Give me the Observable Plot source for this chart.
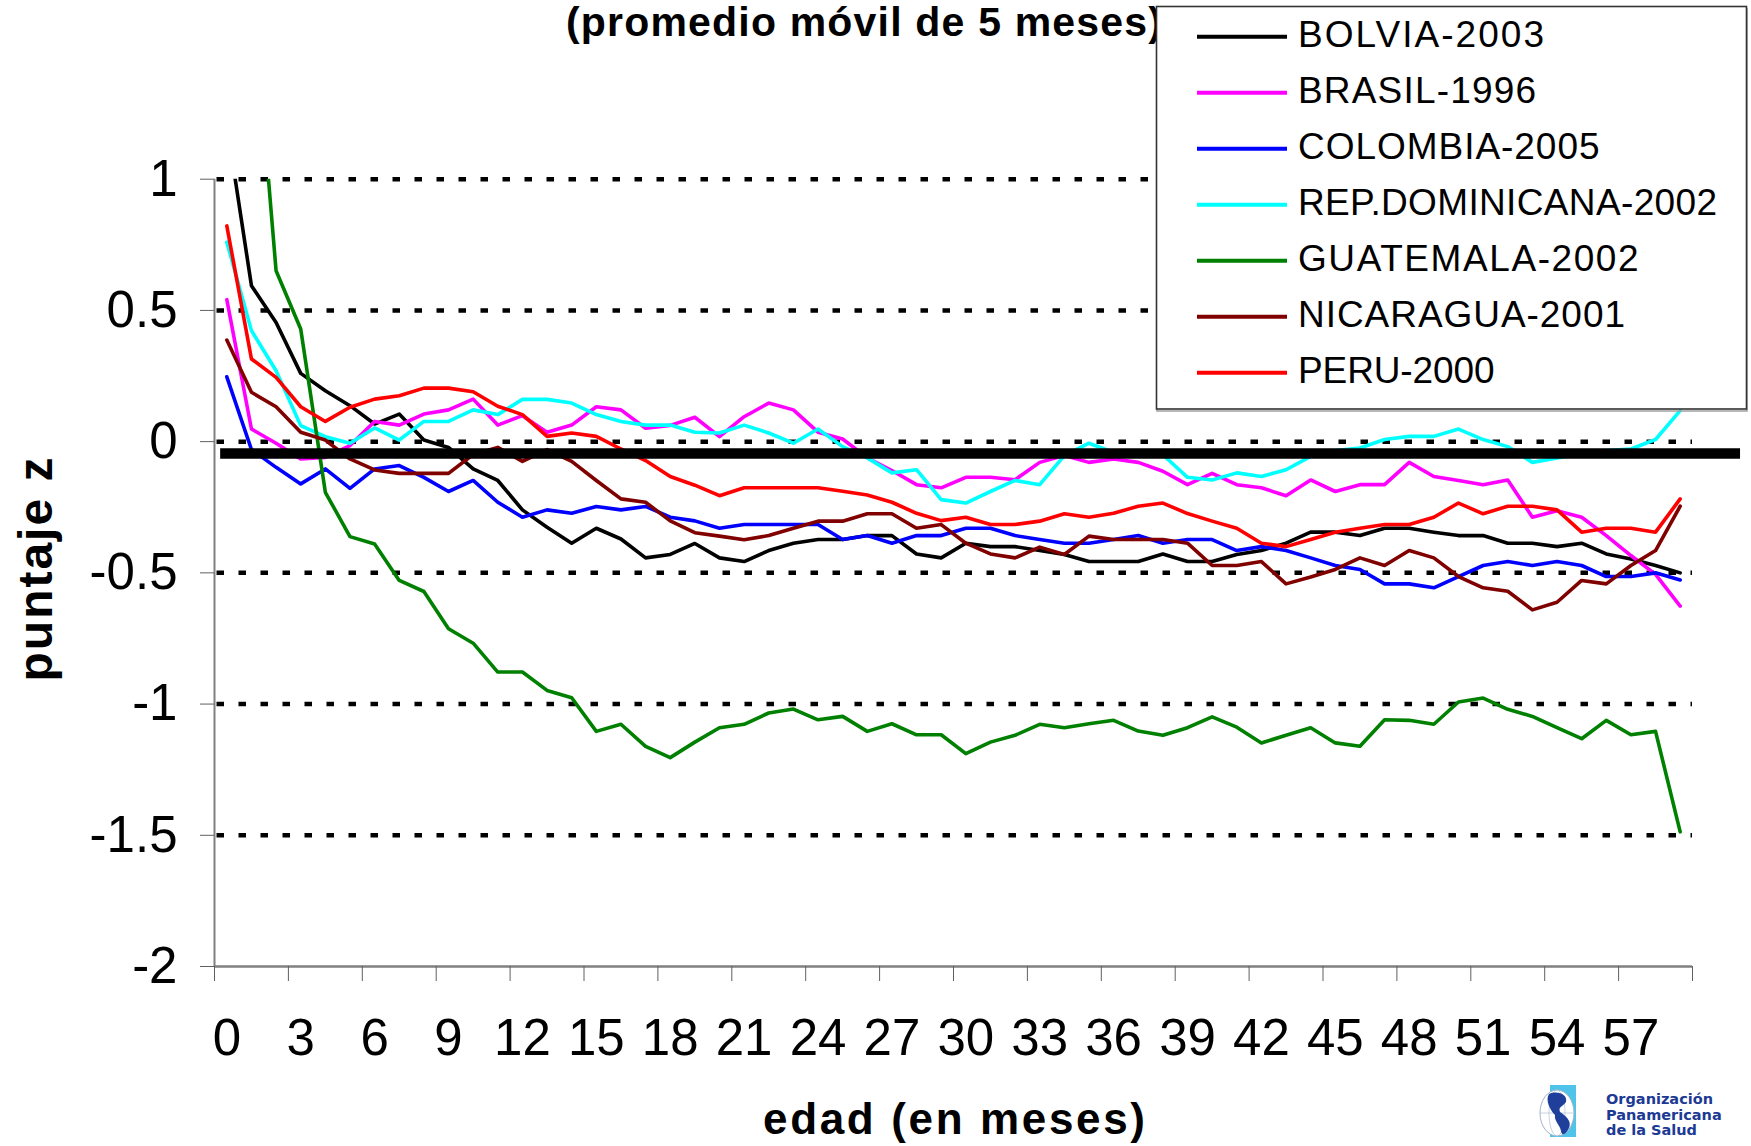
<!DOCTYPE html>
<html>
<head>
<meta charset="utf-8">
<script src="https://cdn.jsdelivr.net/npm/d3@7"></script>
<script src="https://cdn.jsdelivr.net/npm/@observablehq/plot@0.6"></script>
<style>
  html, body { margin: 0; padding: 0; background: #fff; }
  #wrap { position: relative; width: 1751px; height: 1146px; overflow: hidden; }
  #wrap > svg { position: absolute; left: 0; top: 0; }
</style>
</head>
<body>
<div id="wrap"></div>
<script>
// ---------- DATA ----------
const ages = d3.range(0, 60); // edad en meses (categorías 0..59)

const bolivia = [1.21, 0.594, 0.454, 0.260, 0.194, 0.137, 0.067, 0.105, 0.006, -0.022,
  -0.104, -0.148, -0.260, -0.326, -0.387, -0.330, -0.371, -0.443, -0.430, -0.388,
  -0.443, -0.457, -0.415, -0.387, -0.373, -0.373, -0.358, -0.358, -0.428, -0.443,
  -0.387, -0.400, -0.400, -0.415, -0.430, -0.457, -0.457, -0.457, -0.428, -0.457,
  -0.457, -0.430, -0.415, -0.387, -0.345, -0.345, -0.358, -0.330, -0.330, -0.345,
  -0.358, -0.358, -0.387, -0.387, -0.400, -0.387, -0.428, -0.447, -0.472, -0.500];

const brasil = [0.541, 0.048, -0.006, -0.066, -0.060, -0.015, 0.077, 0.063, 0.105, 0.121,
  0.162, 0.063, 0.099, 0.036, 0.063, 0.133, 0.121, 0.051, 0.062, 0.093,
  0.019, 0.095, 0.147, 0.121, 0.036, 0.010, -0.062, -0.110, -0.164, -0.176,
  -0.136, -0.136, -0.145, -0.079, -0.053, -0.079, -0.066, -0.079, -0.113, -0.164,
  -0.121, -0.164, -0.176, -0.206, -0.146, -0.190, -0.164, -0.164, -0.079, -0.133,
  -0.148, -0.164, -0.146, -0.288, -0.263, -0.288, -0.358, -0.434, -0.506, -0.627];

const colombia = [0.247, -0.030, -0.098, -0.161, -0.104, -0.178, -0.104, -0.091, -0.136, -0.190,
  -0.148, -0.231, -0.288, -0.260, -0.273, -0.247, -0.260, -0.247, -0.288, -0.302,
  -0.330, -0.316, -0.316, -0.316, -0.316, -0.373, -0.358, -0.387, -0.358, -0.358,
  -0.330, -0.330, -0.358, -0.373, -0.387, -0.387, -0.373, -0.358, -0.387, -0.373,
  -0.373, -0.415, -0.400, -0.415, -0.443, -0.472, -0.487, -0.542, -0.542, -0.557,
  -0.514, -0.472, -0.457, -0.472, -0.457, -0.472, -0.514, -0.514, -0.500, -0.527];

const repDominicana = [0.760, 0.423, 0.270, 0.061, 0.019, -0.006, 0.052, 0.006, 0.077, 0.077,
  0.121, 0.103, 0.161, 0.161, 0.147, 0.103, 0.077, 0.063, 0.063, 0.036,
  0.033, 0.063, 0.033, -0.006, 0.048, -0.019, -0.062, -0.119, -0.107, -0.221,
  -0.234, -0.190, -0.148, -0.164, -0.053, -0.006, -0.041, -0.040, -0.050, -0.136,
  -0.146, -0.119, -0.133, -0.107, -0.056, -0.034, -0.024, 0.008, 0.020, 0.020,
  0.048, 0.008, -0.019, -0.079, -0.062, -0.047, -0.034, -0.028, 0.008, 0.118];

const guatemala = [2.30, 1.78, 0.651, 0.429, -0.193, -0.362, -0.390, -0.529, -0.571, -0.713,
  -0.768, -0.878, -0.878, -0.948, -0.976, -1.104, -1.077, -1.161, -1.204, -1.145,
  -1.090, -1.077, -1.034, -1.019, -1.060, -1.047, -1.104, -1.075, -1.117, -1.117,
  -1.189, -1.145, -1.119, -1.077, -1.090, -1.075, -1.062, -1.103, -1.119, -1.090,
  -1.049, -1.088, -1.148, -1.119, -1.090, -1.148, -1.161, -1.060, -1.062, -1.077,
  -0.992, -0.977, -1.020, -1.047, -1.090, -1.132, -1.062, -1.117, -1.104, -1.487];

const nicaragua = [0.387, 0.188, 0.133, 0.036, 0.006, -0.066, -0.108, -0.121, -0.121, -0.121,
  -0.049, -0.022, -0.075, -0.030, -0.075, -0.148, -0.218, -0.231, -0.302, -0.347,
  -0.360, -0.374, -0.358, -0.330, -0.303, -0.303, -0.275, -0.275, -0.330, -0.316,
  -0.387, -0.428, -0.443, -0.402, -0.430, -0.360, -0.373, -0.373, -0.373, -0.387,
  -0.472, -0.472, -0.457, -0.542, -0.516, -0.487, -0.443, -0.472, -0.415, -0.443,
  -0.514, -0.557, -0.570, -0.641, -0.612, -0.529, -0.542, -0.472, -0.415, -0.246];

const peru = [0.822, 0.315, 0.245, 0.133, 0.077, 0.131, 0.162, 0.175, 0.204, 0.204,
  0.190, 0.135, 0.103, 0.020, 0.033, 0.020, -0.028, -0.072, -0.133, -0.166,
  -0.206, -0.176, -0.176, -0.176, -0.176, -0.189, -0.203, -0.231, -0.273, -0.301,
  -0.288, -0.316, -0.316, -0.303, -0.275, -0.288, -0.273, -0.246, -0.234, -0.274,
  -0.303, -0.330, -0.387, -0.400, -0.373, -0.345, -0.330, -0.316, -0.316, -0.288,
  -0.234, -0.275, -0.246, -0.246, -0.260, -0.345, -0.330, -0.330, -0.345, -0.218];

const seriesNames = ["BOLVIA-2003", "BRASIL-1996", "COLOMBIA-2005", "REP.DOMINICANA-2002",
  "GUATEMALA-2002", "NICARAGUA-2001", "PERU-2000"];
const seriesColors = ["#000000", "#FF00FF", "#0000FF", "#00FFFF", "#008000", "#800000", "#FF0000"];
const seriesValues = [bolivia, brasil, colombia, repDominicana, guatemala, nicaragua, peru];

const yTicks = [1, 0.5, 0, -0.5, -1, -1.5, -2];
const gridLevels = [1, 0.5, 0, -0.5, -1, -1.5];
const xTickLabels = [0, 3, 6, 9, 12, 15, 18, 21, 24, 27, 30, 33, 36, 39, 42, 45, 48, 51, 54, 57];
const xTickMarks = [-0.5, 2.5, 5.5, 8.5, 11.5, 14.5, 17.5, 20.5, 23.5, 26.5, 29.5, 32.5, 35.5,
  38.5, 41.5, 44.5, 47.5, 50.5, 53.5, 56.5, 59.5];
const referenceLine = [{z: -0.045, from: -0.25, to: 61.45}];

const titleText = "(promedio móvil de 5 meses)";
const xTitle = "edad (en meses)";
const yTitle = "puntaje z";
const logoLines = ["Organización", "Panamericana", "de la Salud"];

// ---------- CHART ----------
const W = 1751, H = 1146;
const FONT = '"Liberation Sans", Arial, Helvetica, sans-serif';

const rows = seriesNames.flatMap((name, s) =>
  seriesValues[s].map((z, i) => ({name, age: ages[i], z})));

const chart = Plot.plot({
  width: W, height: H,
  marginLeft: 214, marginRight: 59, marginTop: 178.7, marginBottom: 180,
  style: {fontFamily: FONT, background: "transparent", color: "#000", overflow: "visible"},
  x: {type: "linear", domain: [-0.5, 59.5]},
  y: {type: "linear", domain: [-2, 1]},
  color: {domain: seriesNames, range: seriesColors},
  marks: [
    Plot.ruleY(gridLevels, {stroke: "#000", strokeWidth: 4.5, strokeDasharray: "7.5 14.5",
      strokeDashoffset: -2.5}),
    Plot.ruleX([-0.5], {stroke: "#808080", strokeWidth: 2}),
    Plot.ruleY([-2], {stroke: "#808080", strokeWidth: 2.5}),
    Plot.axisY(yTicks, {anchor: "left", tickSize: 14, tickPadding: 23, fontSize: 51,
      tickFormat: d => String(d), stroke: "#606060", fill: "#000", label: null}),
    Plot.axisX(xTickMarks, {anchor: "bottom", tickSize: 15, tickFormat: () => "",
      stroke: "#606060", label: null}),
    Plot.axisX(xTickLabels, {anchor: "bottom", tickSize: 0, tickPadding: 52, fontSize: 51,
      tickFormat: d => String(d), fill: "#000", label: null}),
    Plot.line(rows, {x: "age", y: "z", z: "name", stroke: "name", strokeWidth: 3.6,
      strokeLinejoin: "round", clip: true}),
    Plot.ruleY(referenceLine, {y: "z", x1: "from", x2: "to", stroke: "#000", strokeWidth: 10.5})
  ]
});

const wrap = document.getElementById("wrap");
wrap.appendChild(chart);

// ---------- OVERLAY: title, legend, axis titles, logo ----------
const ov = d3.create("svg").attr("width", W).attr("height", H)
  .style("font-family", FONT);

ov.append("text")
  .attr("x", 566).attr("y", 36)
  .attr("font-weight", "bold").attr("font-size", 41)
  .attr("textLength", 596).attr("lengthAdjust", "spacing")
  .text(titleText);

// legend box
const lg = ov.append("g");
lg.append("rect").attr("x", 1157).attr("y", 9).attr("width", 590).attr("height", 402)
  .attr("fill", "none").attr("stroke", "#a0a0a0").attr("stroke-width", 1.5);
lg.append("rect").attr("x", 1156.5).attr("y", 6.5).attr("width", 590).attr("height", 402.5)
  .attr("fill", "#fff").attr("stroke", "#333").attr("stroke-width", 1.6);
const legendTextWidths = [246, 238, 301.5, 419, 340.6, 327, 196.5];
seriesNames.forEach((name, k) => {
  const cy = 36.7 + 56 * k;
  lg.append("line").attr("x1", 1197).attr("x2", 1287).attr("y1", cy).attr("y2", cy)
    .attr("stroke", seriesColors[k]).attr("stroke-width", 4);
  lg.append("text").attr("x", 1298).attr("y", cy + 10.3)
    .attr("font-size", 37)
    .attr("textLength", legendTextWidths[k]).attr("lengthAdjust", "spacing")
    .text(name);
});

// axis titles
ov.append("text")
  .attr("x", 954).attr("y", 1134).attr("text-anchor", "middle")
  .attr("font-weight", "bold").attr("font-size", 44)
  .attr("textLength", 382).attr("lengthAdjust", "spacing")
  .text(xTitle);

ov.append("text")
  .attr("transform", "translate(52,569.5) rotate(-90)").attr("text-anchor", "middle")
  .attr("font-weight", "bold").attr("font-size", 48)
  .attr("textLength", 224).attr("lengthAdjust", "spacing")
  .text(yTitle);

// logo (simplified)
const logo = ov.append("g");
logo.append("rect").attr("x", 1550).attr("y", 1085).attr("width", 26).attr("height", 52).attr("fill", "#4fc3ea");
logo.append("ellipse").attr("cx", 1557).attr("cy", 1113).attr("rx", 17).attr("ry", 23)
  .attr("fill", "#fff").attr("stroke", "#9fb3c8").attr("stroke-width", 1);
logo.append("ellipse").attr("cx", 1557).attr("cy", 1113).attr("rx", 8).attr("ry", 23)
  .attr("fill", "none").attr("stroke", "#b8c6d6").attr("stroke-width", 0.8);
logo.append("line").attr("x1", 1540).attr("x2", 1574).attr("y1", 1113).attr("y2", 1113)
  .attr("stroke", "#b8c6d6").attr("stroke-width", 0.8);
logo.append("path").attr("d", "M1549,1094 C1558,1090 1568,1095 1566,1102 C1563,1107 1558,1106 1560,1112 C1566,1116 1572,1121 1569,1128 C1566,1134 1562,1137 1561,1131 C1560,1125 1554,1121 1555,1115 C1550,1110 1545,1100 1549,1094 Z")
  .attr("fill", "#1f3f9a");
logoLines.forEach((t, k) => {
  logo.append("text").attr("x", 1606).attr("y", 1104 + 15.5 * k)
    .attr("font-family", '"DejaVu Sans", Verdana, sans-serif')
    .attr("font-weight", "bold").attr("font-size", 14.5)
    .attr("fill", "#1c3a94")
    .text(t);
});

wrap.appendChild(ov.node());
</script>
</body>
</html>
